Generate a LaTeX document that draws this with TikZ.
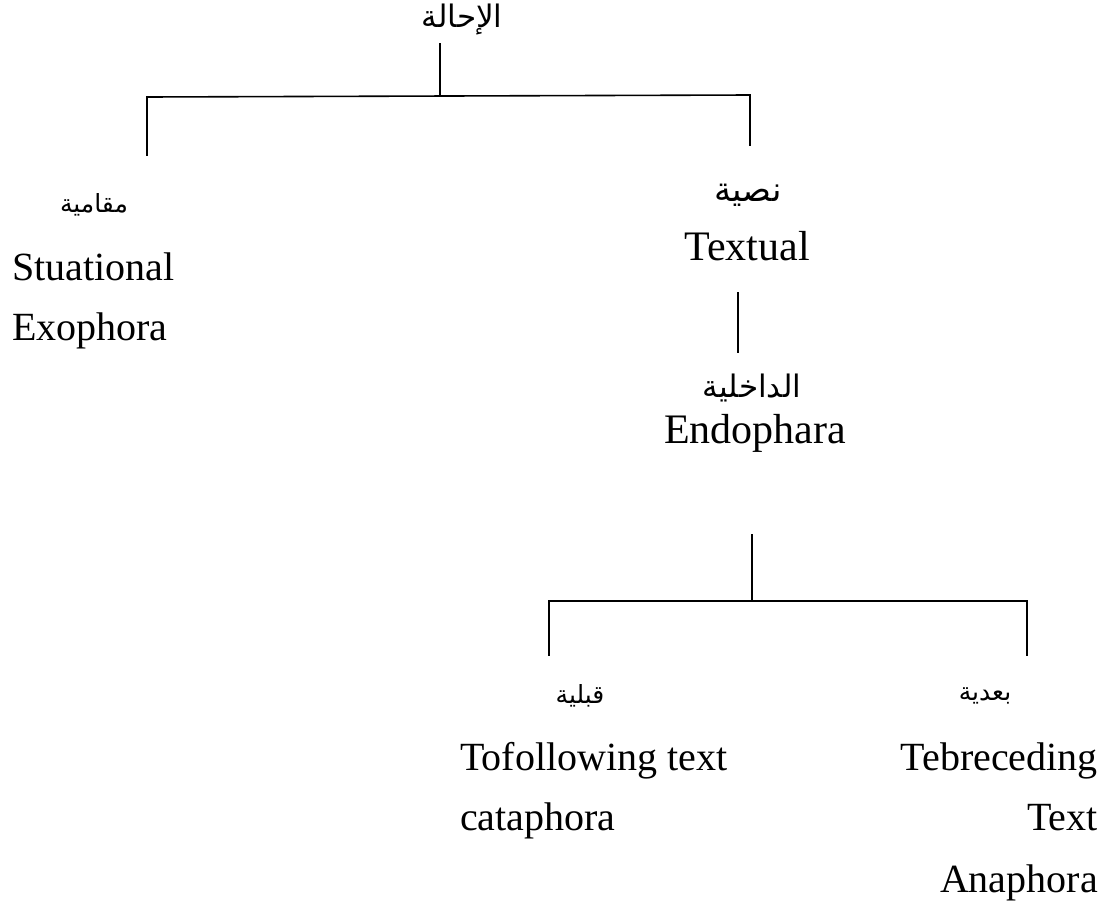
\documentclass[tikz,border=0pt]{standalone}
\usepackage{fontspec}
\setmainfont{Liberation Serif}
\newfontfamily\arabicfont[Script=Arabic]{DejaVu Sans}
\TeXXeTstate=1
\begin{document}
\begin{tikzpicture}[x=1pt,y=-1pt,
  ar/.style={font=\arabicfont\fontsize{25}{30}\selectfont, inner sep=0pt},
  artop/.style={font=\arabicfont\fontsize{31}{36}\selectfont, inner sep=0pt},
  arbig/.style={font=\arabicfont\fontsize{34}{40}\selectfont, inner sep=0pt},
  en/.style={font=\fontsize{40}{48}\selectfont, inner sep=0pt},
  enbig/.style={font=\fontsize{42}{50}\selectfont, inner sep=0pt},
  branch/.style={line width=1.6pt, line cap=rect}]
\useasboundingbox (0,0) rectangle (1117,908);
% labels
\node[artop] (root) at (462,20) {\beginR الإحالة\endR};
\node[ar] (maq) at (94,205) {\beginR مقامية\endR};
\node[en, anchor=base west] (stu) at (12,280) {Stuational};
\node[en, anchor=base west] (exo) at (12,340) {Exophora};
\node[arbig] (nas) at (748,195) {\beginR نصية\endR};
\node[enbig, anchor=base] (txt) at (747,260) {Textual};
\node[arbig, font=\arabicfont\fontsize{31}{36}\selectfont] (dak) at (752,388) {\beginR الداخلية\endR};
\node[enbig, anchor=base] (endo) at (755,443) {Endophara};
\node[ar] (qab) at (580,696) {\beginR قبلية\endR};
\node[en, anchor=base west] (tof) at (460,770) {Tofollowing text};
\node[en, anchor=base west] (cat) at (460,830) {cataphora};
\node[ar] (bad) at (985,696) {\beginR بعدية\endR};
\node[en, anchor=base east] (teb) at (1098,770) {Tebreceding};
\node[en, anchor=base east] (tt) at (1098,830) {Text};
\node[en, anchor=base east] (ana) at (1098,892) {Anaphora};
% connector points
\coordinate (r0) at (440,44);
\coordinate (r1) at (440,96);
\coordinate (rl) at (147,97);
\coordinate (rr) at (750,95);
\coordinate (rlb) at (147,155);
\coordinate (rrb) at (750,145);
\coordinate (t0) at (738,293);
\coordinate (t1) at (738,352);
\coordinate (e0) at (752,535);
\coordinate (e1) at (752,600);
\coordinate (el) at (549,601);
\coordinate (er) at (1027,601);
\coordinate (elb) at (549,655);
\coordinate (erb) at (1027,655);
% connectors
\draw[branch] (r0) -- (r1);
\draw[branch] (rlb) -- (rl) -- (rr) -- (rrb);
\draw[branch] (t0) -- (t1);
\draw[branch] (e0) -- (e1);
\draw[branch] (elb) -- (el) -- (er) -- (erb);
\end{tikzpicture}
\end{document}
